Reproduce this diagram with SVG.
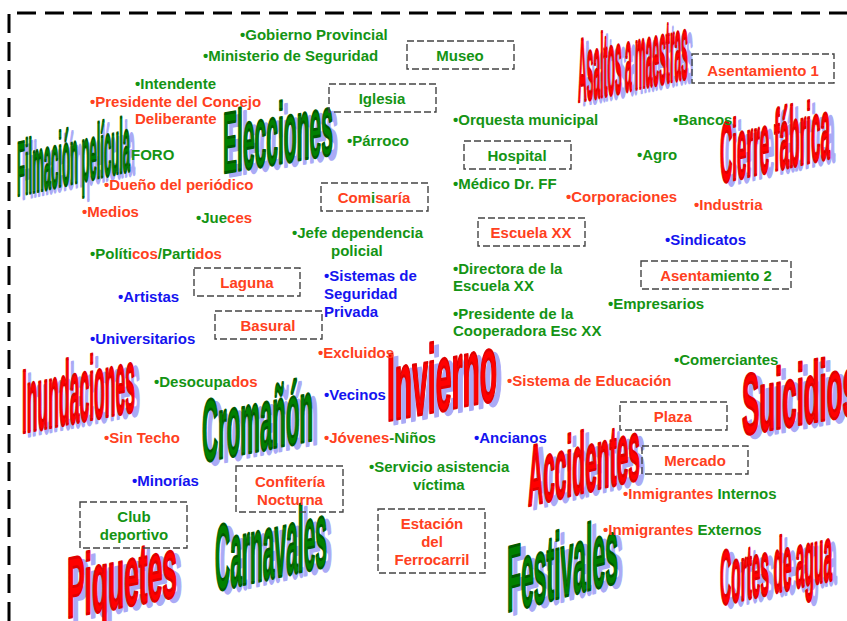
<svg xmlns="http://www.w3.org/2000/svg" width="847" height="621" viewBox="0 0 847 621">
<style>
.t{font-family:"Liberation Sans",Arial,sans-serif;font-weight:bold;font-size:15px}
.m{text-anchor:middle}
.g{fill:#149414}
.o{fill:#ff4020}
.b{fill:#1414f0}
.bx{fill:none;stroke:#444;stroke-width:1.4;stroke-dasharray:7 3}
.wa{font-family:"Liberation Sans",Arial,sans-serif;font-weight:bold;stroke-linejoin:round}
.sh{fill:#aaaaf6;stroke:#aaaaf6;stroke-width:2.6}
.wr{fill:#ff0000;stroke:#e00000;stroke-width:2.6}
.wg{fill:#008000;stroke:#005a00;stroke-width:2.6}
</style>
<rect width="847" height="621" fill="#fff"/>
<path d="M9,621 V13 H847" fill="none" stroke="#000" stroke-width="3" stroke-dasharray="19 9"/>

<!-- WordArt -->
<g id="w-filmacion" transform="translate(17,196) skewY(-12.5) scale(1,1.1)">
<text class="wa sh" x="5" y="4" font-size="70" textLength="113" lengthAdjust="spacingAndGlyphs">Filmación película</text>
<text class="wa wg" x="0" y="0" font-size="70" textLength="113" lengthAdjust="spacingAndGlyphs">Filmación película</text>
</g>
<g id="w-elecciones" transform="translate(223,173) skewY(-9.8) scale(1,1.1)">
<text class="wa sh" x="5" y="4" font-size="78" textLength="110" lengthAdjust="spacingAndGlyphs">Elecciones</text>
<text class="wa wg" x="0" y="0" font-size="78" textLength="110" lengthAdjust="spacingAndGlyphs">Elecciones</text>
</g>
<g id="w-asaltos" transform="translate(578,102) skewY(-12.3) scale(1,1.1)">
<text class="wa sh" x="5" y="4" font-size="82" textLength="110" lengthAdjust="spacingAndGlyphs">Asaltos a maestras</text>
<text class="wa wr" x="0" y="0" font-size="82" textLength="110" lengthAdjust="spacingAndGlyphs">Asaltos a maestras</text>
</g>
<g id="w-cierre" transform="translate(720,183) skewY(-12.8) scale(1,1.1)">
<text class="wa sh" x="5" y="4" font-size="78" textLength="110" lengthAdjust="spacingAndGlyphs">Cierre fábrica</text>
<text class="wa wr" x="0" y="0" font-size="78" textLength="110" lengthAdjust="spacingAndGlyphs">Cierre fábrica</text>
</g>
<g id="w-inundaciones" transform="translate(22,433) skewY(-11) scale(1,1.1)">
<text class="wa sh" x="5" y="4" font-size="82" textLength="113" lengthAdjust="spacingAndGlyphs">Inundaciones</text>
<text class="wa wr" x="0" y="0" font-size="82" textLength="113" lengthAdjust="spacingAndGlyphs">Inundaciones</text>
</g>
<g id="w-cromanon" transform="translate(202,462) skewY(-11.2) scale(1,1.1)">
<text class="wa sh" x="5" y="4" font-size="80" textLength="111" lengthAdjust="spacingAndGlyphs">Cromañón</text>
<text class="wa wg" x="0" y="0" font-size="80" textLength="111" lengthAdjust="spacingAndGlyphs">Cromañón</text>
</g>
<g id="w-invierno" transform="translate(387,421) skewY(-10.8) scale(1,1.12)">
<text class="wa sh" x="5" y="4" font-size="86" textLength="110" lengthAdjust="spacingAndGlyphs">Invierno</text>
<text class="wa wr" x="0" y="0" font-size="86" textLength="110" lengthAdjust="spacingAndGlyphs">Invierno</text>
</g>
<g id="w-suicidios" transform="translate(742,435) skewY(-10.3) scale(1,1.1)">
<text class="wa sh" x="5" y="4" font-size="78" textLength="115" lengthAdjust="spacingAndGlyphs">Suicidios</text>
<text class="wa wr" x="0" y="0" font-size="78" textLength="115" lengthAdjust="spacingAndGlyphs">Suicidios</text>
</g>
<g id="w-accidentes" transform="translate(528,506) skewY(-13.6) scale(1,1.1)">
<text class="wa sh" x="5" y="4" font-size="78" textLength="112" lengthAdjust="spacingAndGlyphs">Accidentes</text>
<text class="wa wr" x="0" y="0" font-size="78" textLength="112" lengthAdjust="spacingAndGlyphs">Accidentes</text>
</g>
<g id="w-piquetes" transform="translate(67,618) skewY(-11.3) scale(1,1.1)">
<text class="wa sh" x="5" y="4" font-size="78" textLength="110" lengthAdjust="spacingAndGlyphs">Piquetes</text>
<text class="wa wr" x="0" y="0" font-size="78" textLength="110" lengthAdjust="spacingAndGlyphs">Piquetes</text>
</g>
<g id="w-carnavales" transform="translate(215,591) skewY(-12.6) scale(1,1.1)">
<text class="wa sh" x="5" y="4" font-size="85" textLength="112" lengthAdjust="spacingAndGlyphs">Carnavales</text>
<text class="wa wg" x="0" y="0" font-size="85" textLength="112" lengthAdjust="spacingAndGlyphs">Carnavales</text>
</g>
<g id="w-festivales" transform="translate(507,612) skewY(-15.1) scale(1,1.1)">
<text class="wa sh" x="5" y="4" font-size="85" textLength="111" lengthAdjust="spacingAndGlyphs">Festivales</text>
<text class="wa wg" x="0" y="0" font-size="85" textLength="111" lengthAdjust="spacingAndGlyphs">Festivales</text>
</g>
<g id="w-cortes" transform="translate(720,605) skewY(-12.6) scale(1,1.1)">
<text class="wa sh" x="5" y="4" font-size="70" textLength="112" lengthAdjust="spacingAndGlyphs">Cortes de agua</text>
<text class="wa wr" x="0" y="0" font-size="70" textLength="112" lengthAdjust="spacingAndGlyphs">Cortes de agua</text>
</g>

<!-- Boxes -->
<g id="museo"><rect class="bx" x="407" y="41" width="107" height="28"/><text class="t m g" x="460" y="61">Museo</text></g>
<g id="iglesia"><rect class="bx" x="329" y="84" width="107" height="28"/><text class="t m g" x="382" y="104">Iglesia</text></g>
<g id="comisaria"><rect class="bx" x="321" y="183" width="107" height="28"/><text class="t m" x="374" y="203"><tspan class="o">Com</tspan><tspan class="g">i</tspan><tspan class="o">saría</tspan></text></g>
<g id="hospital"><rect class="bx" x="464" y="141" width="107" height="28"/><text class="t m g" x="517" y="161">Hospital</text></g>
<g id="escuela"><rect class="bx" x="478" y="218" width="107" height="28"/><text class="t m o" x="531" y="238">Escuela XX</text></g>
<g id="laguna"><rect class="bx" x="194" y="268" width="106" height="28"/><text class="t m o" x="247" y="288">Laguna</text></g>
<g id="basural"><rect class="bx" x="215" y="311" width="107" height="28"/><text class="t m o" x="268" y="331">Basural</text></g>
<g id="asentamiento2"><rect class="bx" x="641" y="261" width="150" height="28"/><text class="t m" x="716" y="281"><tspan class="o">Asenta</tspan><tspan class="g">miento 2</tspan></text></g>
<g id="asentamiento1"><rect class="bx" x="692" y="54" width="142" height="29"/><text class="t m o" x="763" y="76">Asentamiento 1</text></g>
<g id="plaza"><rect class="bx" x="620" y="402" width="107" height="28"/><text class="t m o" x="673" y="422">Plaza</text></g>
<g id="mercado"><rect class="bx" x="642" y="446" width="106" height="28"/><text class="t m o" x="695" y="466">Mercado</text></g>
<g id="club"><rect class="bx" x="80" y="502" width="107" height="46"/><text class="t m g" x="134" y="522">Club</text><text class="t m g" x="134" y="540">deportivo</text></g>
<g id="confiteria"><rect class="bx" x="236" y="466" width="107" height="46"/><text class="t m o" x="290" y="487">Confitería</text><text class="t m o" x="290" y="505">Nocturna</text></g>
<g id="estacion"><rect class="bx" x="378" y="509" width="107" height="64"/><text class="t m o" x="432" y="529">Estación</text><text class="t m o" x="432" y="547">del</text><text class="t m o" x="432" y="565">Ferrocarril</text></g>

<!-- Labels -->
<g id="labels">
<text class="t g" x="240" y="40">•Gobierno Provincial</text>
<text class="t g" x="203" y="61">•Ministerio de Seguridad</text>
<text class="t g" x="135" y="89">•Intendente</text>
<text class="t o" x="90" y="107">•Presidente del Concejo</text>
<text class="t o" x="135" y="124">Deliberante</text>
<text class="t g" x="131" y="160">FORO</text>
<text class="t o" x="104" y="190">•Dueño del periódico</text>
<text class="t o" x="82" y="217">•Medios</text>
<text class="t" x="196" y="223"><tspan class="g">•Jue</tspan><tspan class="o">ces</tspan></text>
<text class="t" x="90" y="259"><tspan class="g">•Políti</tspan><tspan class="o">cos</tspan><tspan class="g">/Parti</tspan><tspan class="o">dos</tspan></text>
<text class="t b" x="118" y="302">•Artistas</text>
<text class="t b" x="90" y="344">•Universitarios</text>
<text class="t" x="154" y="387"><tspan class="g">•Desocupa</tspan><tspan class="o">dos</tspan></text>
<text class="t o" x="104" y="443">•Sin Techo</text>
<text class="t b" x="132" y="486">•Minorías</text>
<text class="t o" x="318" y="358">•Excluidos</text>
<text class="t b" x="324" y="400">•Vecinos</text>
<text class="t" x="324" y="443"><tspan class="o">•Jóvenes</tspan><tspan class="g">-Niños</tspan></text>
<text class="t g" x="369" y="472">•Servicio asistencia</text>
<text class="t g" x="413" y="490">víctima</text>
<text class="t b" x="474" y="443">•Ancianos</text>
<text class="t o" x="507" y="386">•Sistema de Educación</text>
<text class="t g" x="674" y="365">•Comerciantes</text>
<text class="t" x="623" y="499"><tspan class="o">•Inmigrantes </tspan><tspan class="g">Internos</tspan></text>
<text class="t" x="603" y="535"><tspan class="o">•Inmigrantes </tspan><tspan class="g">Externos</tspan></text>
<text class="t g" x="347" y="146">•Párroco</text>
<text class="t g" x="292" y="238">•Jefe dependencia</text>
<text class="t g" x="331" y="256">policial</text>
<text class="t b" x="324" y="281">•Sistemas de</text>
<text class="t b" x="324" y="299">Seguridad</text>
<text class="t b" x="324" y="317">Privada</text>
<text class="t g" x="453" y="125">•Orquesta municipal</text>
<text class="t g" x="453" y="189">•Médico Dr. FF</text>
<text class="t o" x="566" y="202">•Corporaciones</text>
<text class="t g" x="453" y="274">•Directora de la</text>
<text class="t g" x="453" y="291">Escuela XX</text>
<text class="t g" x="453" y="319">•Presidente de la</text>
<text class="t g" x="453" y="336">Cooperadora Esc XX</text>
<text class="t g" x="673" y="125">•Bancos</text>
<text class="t g" x="637" y="160">•Agro</text>
<text class="t o" x="694" y="210">•Industria</text>
<text class="t b" x="665" y="245">•Sindicatos</text>
<text class="t g" x="608" y="309">•Empresarios</text>
</g>
</svg>
